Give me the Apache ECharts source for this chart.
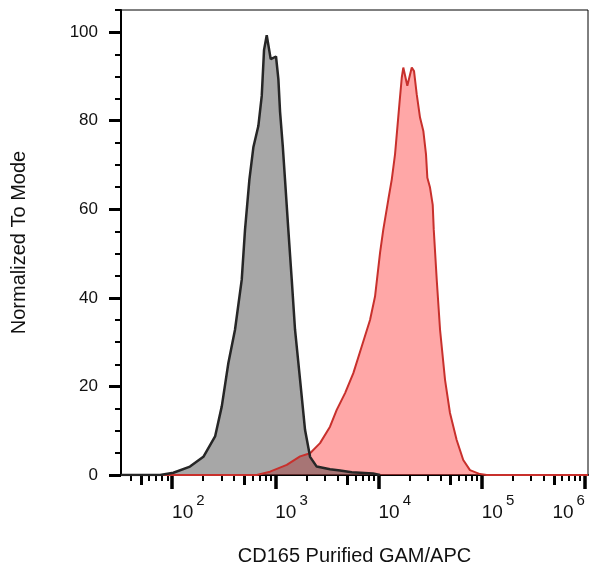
<!DOCTYPE html>
<html>
<head>
<meta charset="utf-8">
<script src="https://cdn.jsdelivr.net/npm/echarts@6/dist/echarts.min.js"></script>
<style>
	html, body { margin: 0; padding: 0; background: #fff; }
	#chart { width: 600px; height: 576px; }
</style>
</head>
<body>
<div id="chart"></div>
<script>
// -------------------------
// Histogram overlay: isotype (gray) vs CD165 stained (red)
// -------------------------

// Gray histogram (control): [intensity, % of mode]
const grayX = [32, 76.5, 103, 149, 201, 261, 303, 351, 407, 473, 509, 561, 613, 685, 739, 778, 826, 903, 1016, 1071, 1112, 1181, 1242, 1337, 1443, 1553, 1738, 1941, 2172, 2518, 3388, 4236, 5500, 8850, 10350];
const grayY = [0, 0, 0.5, 1.9, 4.1, 8.7, 15.5, 25.3, 32.8, 44.1, 55.4, 66.7, 74, 78.8, 85.6, 96, 99.3, 93.9, 94.5, 89.4, 82, 74.3, 66.7, 55.4, 44.1, 32.8, 21.5, 10.2, 4.1, 1.9, 1.3, 1.0, 0.6, 0.35, 0];

// Red histogram (CD165 Purified GAM/APC)
const redX = [32, 661, 889, 1291, 1738, 2172, 2712, 3388, 3935, 4741, 5702, 6872, 8272, 9248, 10350, 11120, 12440, 13430, 14450, 15920, 16790, 17380, 19010, 20990, 22080, 23440, 25240, 27170, 28840, 29720, 31550, 33500, 34280, 36640, 39450, 44090, 49250, 57150, 66190, 76910, 96100, 111700, 1070000];
const redY = [0, 0, 0.75, 2.3, 4.2, 4.9, 7.2, 10.9, 14.7, 18.5, 23, 29, 35, 40.3, 50.2, 55.4, 62.2, 66.7, 72.4, 83.7, 89.7, 92, 87.9, 92, 91.2, 86, 80.7, 77.7, 72.4, 67.1, 64.9, 61, 55.4, 44.1, 32.8, 21.5, 14, 7.9, 3.4, 1.1, 0.2, 0, 0];

// Axis ticks
const xMajor = [1e2, 1e3, 1e4, 1e5, 1e6];
const xLabeled = [1e2, 1e3, 1e4, 1e5];
const xLastLabel = [1e6];
const xMedium = [50, 500, 5000, 50000, 500000];
const xMinor = [40, 60, 70, 80, 90, 200, 300, 400, 600, 700, 800, 900,
	2000, 3000, 4000, 6000, 7000, 8000, 9000, 20000, 30000, 40000, 60000, 70000, 80000, 90000,
	200000, 300000, 400000, 600000, 700000, 800000, 900000];
const yMajor = [0, 20, 40, 60, 80, 100];
const yMinor = [5, 10, 15, 25, 30, 35, 45, 50, 55, 65, 70, 75, 85, 90, 95, 105];

const xMin = 32;
const xMax = 1070000;

// ----------------------
// Helpers
// ----------------------
function pairs(xs, ys) {
	return xs.map((x, i) => [x, ys[i]]);
}

const font = 'Arial, "Liberation Sans", sans-serif';

// "10" with a raised exponent
const powRich = {
	b: { fontSize: 19, lineHeight: 19, padding: [10, 0, 0, 0], color: '#111', fontFamily: font },
	s: { fontSize: 15, lineHeight: 15, padding: [0, 0, 14, 3], color: '#111', fontFamily: font }
};

function powLabel(v) {
	return '{b|10}{s|' + Math.round(Math.log10(v)) + '}';
}

// bare x axis sharing the same scale, used for extra tick rows
function tickAxis(values, len, width) {
	return {
		type: 'log', min: xMin, max: xMax, position: 'bottom', gridIndex: 0,
		axisLine: { show: false },
		splitLine: { show: false },
		axisTick: { show: true, customValues: values, length: len, lineStyle: { color: '#000', width: width } },
		axisLabel: { show: false }
	};
}

// ----------------------
// Chart
// ----------------------
const chart = echarts.init(document.getElementById('chart'));

const option = {
	animation: false,
	backgroundColor: '#fff',
	grid: {
		left: 121, right: 12, top: 10, bottom: 101,
		show: true, borderColor: '#000', borderWidth: 1, backgroundColor: 'transparent'
	},
	xAxis: [
		{
			type: 'log', min: xMin, max: xMax, position: 'bottom',
			name: 'CD165 Purified GAM/APC',
			nameLocation: 'middle', nameGap: 71,
			nameTextStyle: { fontSize: 20, color: '#111', fontFamily: font },
			axisLine: { show: true, lineStyle: { color: '#000', width: 2 } },
			splitLine: { show: false },
			axisTick: { show: true, customValues: xMajor, length: 14, lineStyle: { color: '#000', width: 3.5 } },
			axisLabel: {
				show: true, customValues: xLabeled, margin: 23, align: 'left',
				formatter: powLabel, rich: powRich
			}
		},
		tickAxis(xMedium, 10, 3),
		tickAxis(xMinor, 6, 2),
		{
			type: 'log', min: xMin, max: xMax, position: 'bottom',
			axisLine: { show: false },
			splitLine: { show: false },
			axisTick: { show: false },
			axisLabel: {
				show: true, customValues: xLastLabel, margin: 23, align: 'right',
				formatter: powLabel, rich: powRich
			}
		}
	],
	yAxis: [
		{
			type: 'value', min: 0, max: 105, position: 'left',
			name: 'Normalized To Mode',
			nameLocation: 'middle', nameGap: 92,
			nameTextStyle: { fontSize: 20, color: '#111', fontFamily: font },
			axisLine: { show: true, lineStyle: { color: '#000', width: 2 } },
			splitLine: { show: false },
			axisTick: { show: true, customValues: yMajor, length: 12, lineStyle: { color: '#000', width: 3 } },
			axisLabel: { show: true, customValues: yMajor, margin: 23, fontSize: 17, color: '#111', fontFamily: font }
		},
		{
			type: 'value', min: 0, max: 105, position: 'left',
			axisLine: { show: false },
			splitLine: { show: false },
			axisTick: { show: true, customValues: yMinor, length: 6, lineStyle: { color: '#000', width: 2 } },
			axisLabel: { show: false }
		}
	],
	series: [
		{
			name: 'red-fill', type: 'line', z: 2, showSymbol: false, silent: true,
			data: pairs(redX, redY),
			lineStyle: { opacity: 0 },
			areaStyle: { color: 'rgba(255, 80, 80, 0.5)', opacity: 1 }
		},
		{
			name: 'gray-fill', type: 'line', z: 3, showSymbol: false, silent: true,
			data: pairs(grayX, grayY),
			lineStyle: { opacity: 0 },
			areaStyle: { color: 'rgba(50, 50, 50, 0.43)', opacity: 1 }
		},
		{
			name: 'red-line', type: 'line', z: 4, showSymbol: false, silent: true,
			data: pairs(redX, redY),
			lineStyle: { color: '#c8302c', width: 2 }
		},
		{
			name: 'gray-line', type: 'line', z: 5, showSymbol: false, silent: true,
			data: pairs(grayX, grayY),
			lineStyle: { color: '#262626', width: 2.5 }
		}
	]
};

chart.setOption(option);
</script>
</body>
</html>
